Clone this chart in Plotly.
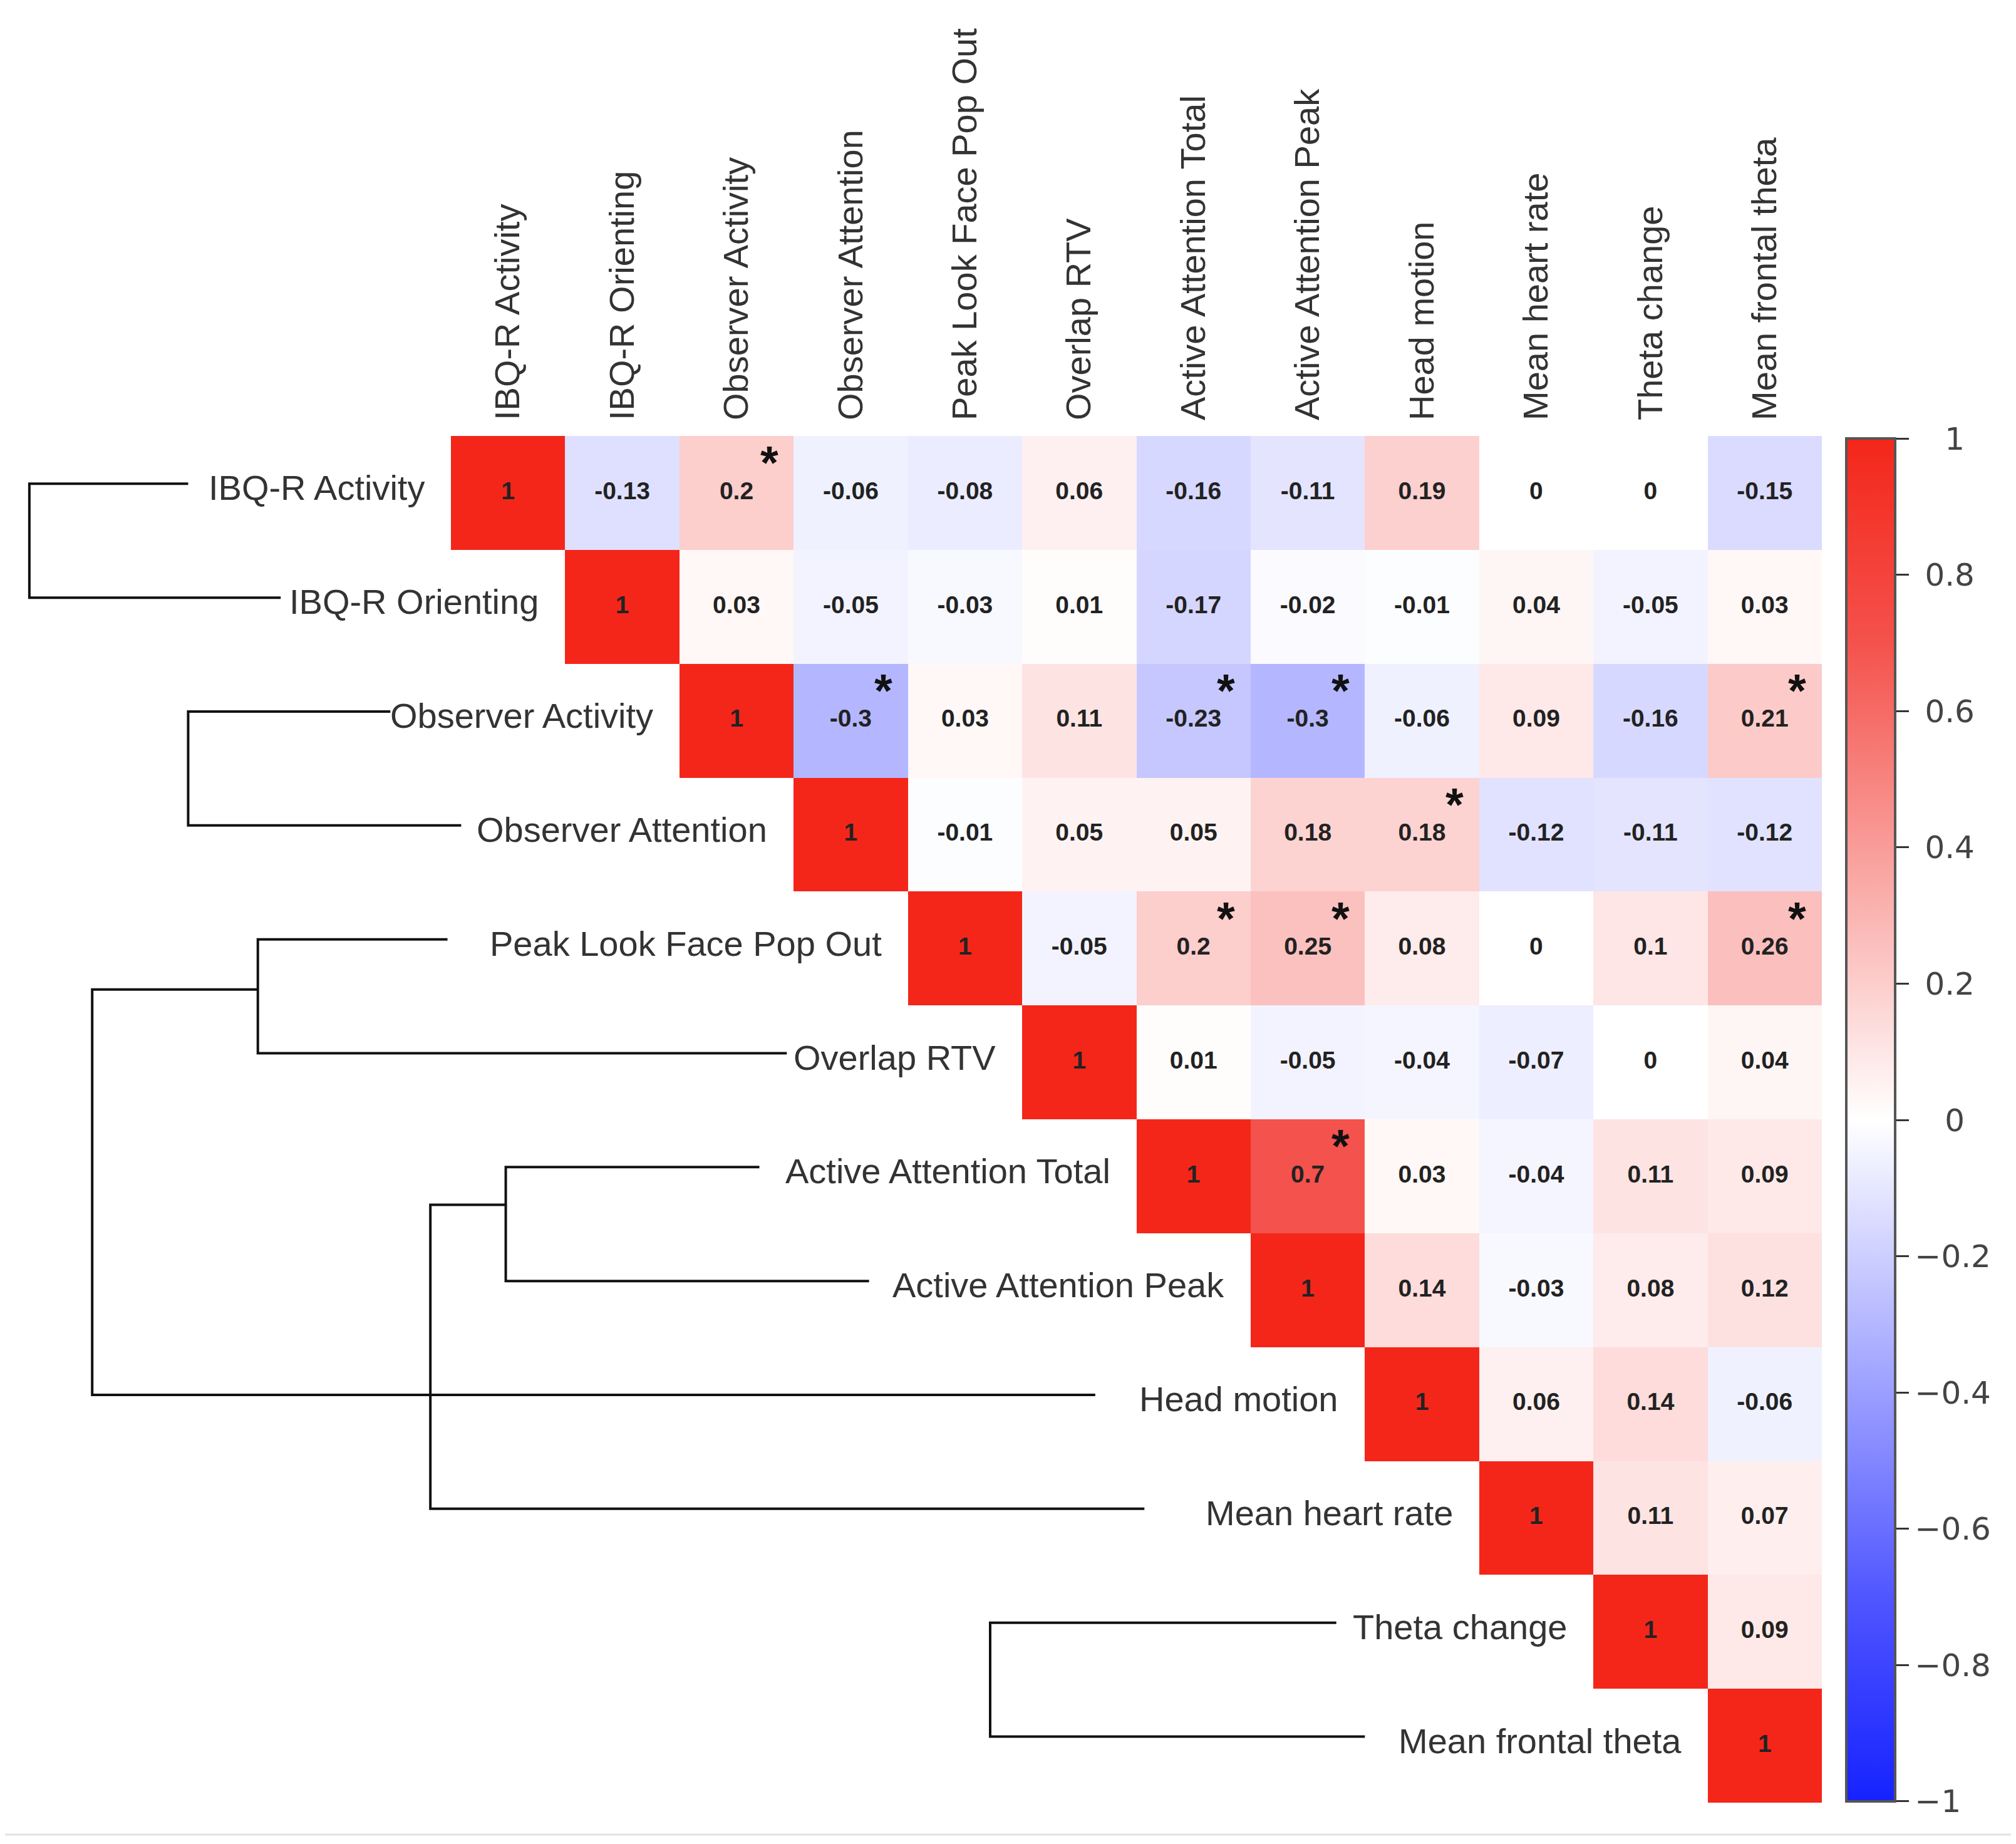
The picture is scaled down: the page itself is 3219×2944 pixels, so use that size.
import math
import plotly.graph_objects as go

# ---------------- data ----------------
variables = ["IBQ-R Activity", "IBQ-R Orienting", "Observer Activity", "Observer Attention",
             "Peak Look Face Pop Out", "Overlap RTV", "Active Attention Total",
             "Active Attention Peak", "Head motion", "Mean heart rate", "Theta change",
             "Mean frontal theta"]

# upper triangle, each row starts at the diagonal
upper_rows = [
    [1, -0.13, 0.2, -0.06, -0.08, 0.06, -0.16, -0.11, 0.19, 0, 0, -0.15],
    [1, 0.03, -0.05, -0.03, 0.01, -0.17, -0.02, -0.01, 0.04, -0.05, 0.03],
    [1, -0.3, 0.03, 0.11, -0.23, -0.3, -0.06, 0.09, -0.16, 0.21],
    [1, -0.01, 0.05, 0.05, 0.18, 0.18, -0.12, -0.11, -0.12],
    [1, -0.05, 0.2, 0.25, 0.08, 0, 0.1, 0.26],
    [1, 0.01, -0.05, -0.04, -0.07, 0, 0.04],
    [1, 0.7, 0.03, -0.04, 0.11, 0.09],
    [1, 0.14, -0.03, 0.08, 0.12],
    [1, 0.06, 0.14, -0.06],
    [1, 0.11, 0.07],
    [1, 0.09],
    [1],
]

# significant correlations (row, column)
significant = [(0, 2), (2, 3), (2, 6), (2, 7), (2, 11), (3, 8), (4, 6), (4, 7), (4, 11), (6, 7)]

colorbar_ticks = [-1.0, -0.8, -0.6, -0.4, -0.2, 0.0, 0.2, 0.4, 0.6, 0.8, 1.0]

# dendrogram (x in column units of the heatmap)
leaf_line_end = [-2.80, -1.99, -1.03, -0.41, -0.53, 2.44, 2.20, 3.16, 5.14, 5.57, 7.25, 7.50]
cluster_height = {"A": -4.19, "B": -2.80, "C": -2.19, "D": -0.02, "E": -0.68, "F": -3.64, "G": 4.22}
cluster_children = {"A": (0, 1), "B": (2, 3), "C": (4, 5), "D": (6, 7),
                    "E": ("D", 9), "F": ("C", 8), "G": (10, 11)}
cluster_link_row = {"C": 4.36, "D": 6.25}

# ---------------- figure ----------------
W, H = 3219, 2944
heat_x = [712 / W, 2901 / W]
heat_y = [1 - 2870 / H, 1 - 688 / H]
n = len(variables)

z = [[None] * n for _ in range(n)]
for i, row in enumerate(upper_rows):
    for k, v in enumerate(row):
        z[i][i + k] = v


def fmt(v):
    return str(int(v)) if float(v).is_integer() else ("%g" % v)


PAD = "<span style='color:rgba(0,0,0,0)'>%s</span>"


def cb_label(v):
    # roughly centre the colorbar labels (invisible padding glyphs)
    s = fmt(v).replace("-", "\u2212")
    if v < 0:
        return s
    if float(v).is_integer():
        return (PAD % "0.") + s
    return (PAD % ".") + s


# keep the end ticks a hair inside the colour range so their custom text is used
cb_tickvals = [max(min(v, 0.99999), -0.99999) for v in colorbar_ticks]

colorscale = [[0.0, "rgb(22,34,255)"], [0.15, "rgb(80,86,255)"], [0.5, "rgb(255,255,255)"],
              [0.85, "rgb(244,82,76)"], [1.0, "rgb(244,38,26)"]]

fig = go.Figure()
fig.add_trace(go.Heatmap(
    z=z, x=list(range(n)), y=list(range(n)), zmin=-1, zmax=1, colorscale=colorscale,
    hoverinfo="skip", xaxis="x", yaxis="y",
    colorbar=dict(thickness=78, thicknessmode="pixels", len=2176, lenmode="pixels",
                  x=2940 / W, xanchor="left", xpad=0, y=1 - 692 / H, yanchor="top", ypad=0,
                  tickmode="array", tickvals=cb_tickvals,
                  ticktext=[cb_label(v) for v in colorbar_ticks],
                  ticks="outside", ticklen=20, tickwidth=3,
                  tickcolor="#333", tickfont=dict(family="DejaVu Sans", size=50, color="#444"),
                  outlinewidth=4, outlinecolor="#555"),
))

# cell values
cx, cy, ct = [], [], []
for i, row in enumerate(upper_rows):
    for k, v in enumerate(row):
        cx.append(i + k)
        cy.append(i)
        ct.append(fmt(v))
fig.add_trace(go.Scatter(x=cx, y=cy, text=ct, mode="text", hoverinfo="skip",
                         textfont=dict(family="Liberation Sans", size=39, color="#222", weight="bold"),
                         xaxis="x", yaxis="y", showlegend=False))

# dendrogram lines
leaf_y_offset = -0.08


def node_pos(c):
    if isinstance(c, int):
        return leaf_line_end[c], c + leaf_y_offset
    return cluster_height[c], cluster_link_row.get(c, 0)


lx, ly = [], []
for name, (a, b) in cluster_children.items():
    h = cluster_height[name]
    xa, ya = node_pos(a)
    xb, yb = node_pos(b)
    lx += [xa, h, h, xb, None]
    ly += [ya, ya, yb, yb, None]
fig.add_trace(go.Scatter(x=lx, y=ly, mode="lines", line=dict(color="#111", width=4),
                         hoverinfo="skip", xaxis="x2", yaxis="y", showlegend=False))

# x2 axis spans the whole figure width in column units
cell_px = (heat_x[1] - heat_x[0]) * W / n
x2_range = [-0.5 - heat_x[0] * W / cell_px, n - 0.5 + (1 - heat_x[1]) * W / cell_px]

annotations = []
for i, name in enumerate(variables):
    annotations.append(dict(x=i - 0.5, y=i, xref="x2", yref="y", text=name, showarrow=False,
                            xanchor="right", yanchor="middle", xshift=-40, yshift=8,
                            font=dict(family="Liberation Sans", size=56, color="#333")))
for (r, c) in significant:
    annotations.append(dict(x=c, y=r, xref="x", yref="y", text="<b>*</b>", showarrow=False,
                            xanchor="center", yanchor="middle", xshift=52, yshift=48,
                            font=dict(family="Liberation Sans", size=74, color="#111")))

fig.update_layout(
    width=W, height=H, margin=dict(l=0, r=0, t=0, b=0),
    paper_bgcolor="white", plot_bgcolor="rgba(0,0,0,0)", showlegend=False,
    xaxis=dict(domain=heat_x, range=[-0.5, n - 0.5], side="top", anchor="y",
               tickvals=list(range(n)), ticktext=variables, tickangle=-90, ticks="",
               ticklabelstandoff=24,
               tickfont=dict(family="Liberation Sans", size=56, color="#333"),
               showgrid=False, zeroline=False, showline=False),
    xaxis2=dict(domain=[0, 1], range=x2_range, anchor="y", visible=False,
                showgrid=False, zeroline=False),
    yaxis=dict(domain=heat_y, range=[n - 0.5, -0.5], showticklabels=False, ticks="",
               showgrid=False, zeroline=False, showline=False),
    annotations=annotations,
    shapes=[dict(type="line", xref="paper", yref="paper", x0=0, x1=1,
                 y0=1 - 2921 / H, y1=1 - 2921 / H, line=dict(color="#e2e2e2", width=3))],
)

fig.write_html("out.html")
